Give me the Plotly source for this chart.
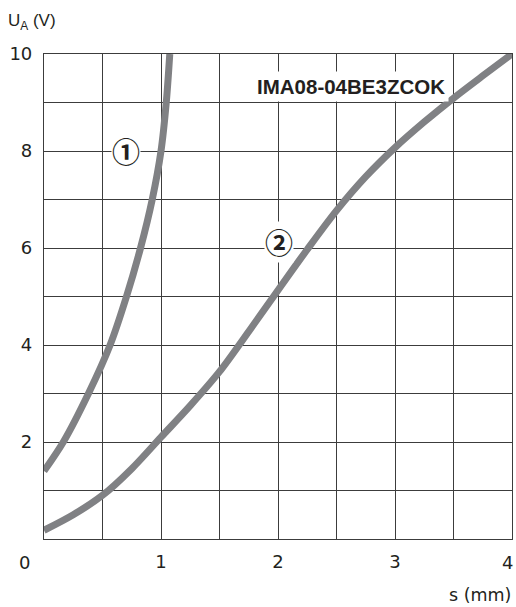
import plotly.graph_objects as go

# Curve 1
s1 = [0, 0.165, 0.38, 0.565, 0.705, 0.825, 0.925, 1.0, 1.045, 1.075]
u1 = [1.4, 2.0, 3.0, 4.0, 5.0, 6.0, 7.0, 8.0, 9.0, 10.0]
# Curve 2
s2 = [0, 0.25, 0.5, 0.75, 1.0, 1.25, 1.5, 1.75, 2.0, 2.25, 2.5, 2.75, 3.0, 3.25, 3.5, 3.75, 4.0]
u2 = [0.18, 0.5, 0.9, 1.45, 2.1, 2.75, 3.45, 4.28, 5.13, 5.97, 6.77, 7.47, 8.07, 8.6, 9.09, 9.55, 10.0]

x_grid = [0, 0.5, 1, 1.5, 2, 2.5, 3, 3.5, 4]
x_text = ['', '', '1', '', '2', '', '3', '', '']
y_grid = [0, 1, 2, 3, 4, 5, 6, 7, 8, 9, 10]
y_text = ['', '', '2', '', '4', '', '6', '', '8', '', '10']

curve_color = '#808184'
grid_color = '#3c3c3c'
text_color = '#231f20'
font_main = 'DejaVu Sans, sans-serif'
font_lib = 'Liberation Sans, Arial, sans-serif'
font_circ = 'Noto Sans CJK JP, DejaVu Sans'

fig = go.Figure()
fig.add_trace(go.Scatter(x=s1, y=u1, mode='lines',
                         line=dict(color=curve_color, width=7, shape='spline', smoothing=0.9),
                         cliponaxis=False, hoverinfo='skip'))
fig.add_trace(go.Scatter(x=s2, y=u2, mode='lines',
                         line=dict(color=curve_color, width=7, shape='spline', smoothing=0.9),
                         cliponaxis=False, hoverinfo='skip'))

annotations = [
    dict(x=0.70, y=8.0, xref='x', yref='y', text='<b>①</b>', showarrow=False,
         font=dict(size=28, color=text_color, family=font_circ),
         bgcolor='white', borderpad=0),
    dict(x=2.01, y=6.12, xref='x', yref='y', text='<b>②</b>', showarrow=False,
         font=dict(size=28, color=text_color, family=font_circ),
         bgcolor='white', borderpad=0),
    dict(x=2.62, y=9.33, xref='x', yref='y', text='<b>IMA08-04BE3ZCOK</b>', showarrow=False,
         font=dict(size=20.5, color=text_color, family=font_lib),
         bgcolor='white', borderpad=3),
    dict(x=0, y=0, xref='x', yref='y', text='0', showarrow=False, xanchor='right',
         yanchor='middle', xshift=-12, yshift=-23,
         font=dict(size=18, color=text_color, family=font_main)),
    dict(x=4, y=0, xref='x', yref='y', text='4', showarrow=False, xanchor='right',
         yanchor='middle', xshift=3, yshift=-23,
         font=dict(size=18, color=text_color, family=font_main)),
    dict(x=1, y=-0.1155, xref='paper', yref='paper', text='s (mm)', showarrow=False,
         xanchor='right', yanchor='middle', xshift=1,
         font=dict(size=17.5, color=text_color, family=font_main)),
    dict(x=-0.082, y=1.066, xref='paper', yref='paper', text='U<sub>A</sub> (V)', showarrow=False,
         xanchor='left', yanchor='middle',
         font=dict(size=17, color=text_color, family=font_lib)),
]

fig.update_layout(
    width=516, height=607,
    margin=dict(l=44, r=4, t=54, b=68),
    paper_bgcolor='white', plot_bgcolor='white',
    showlegend=False,
    annotations=annotations,
    xaxis=dict(range=[0, 4], tickvals=x_grid, ticktext=x_text, showgrid=True,
               gridcolor=grid_color, gridwidth=1.2, zeroline=False,
               showline=True, linecolor=grid_color, linewidth=1.2, mirror=True,
               ticks='', ticklabelstandoff=6,
               tickfont=dict(size=18, color=text_color, family=font_main)),
    yaxis=dict(range=[0, 10], tickvals=y_grid, ticktext=y_text, showgrid=True,
               gridcolor=grid_color, gridwidth=1.2, zeroline=False,
               showline=True, linecolor=grid_color, linewidth=1.2, mirror=True,
               ticks='', ticklabelstandoff=7,
               tickfont=dict(size=18, color=text_color, family=font_main)),
)

fig.write_html('out.html', config={'displayModeBar': False},
               post_script="document.body.style.margin='0';")
